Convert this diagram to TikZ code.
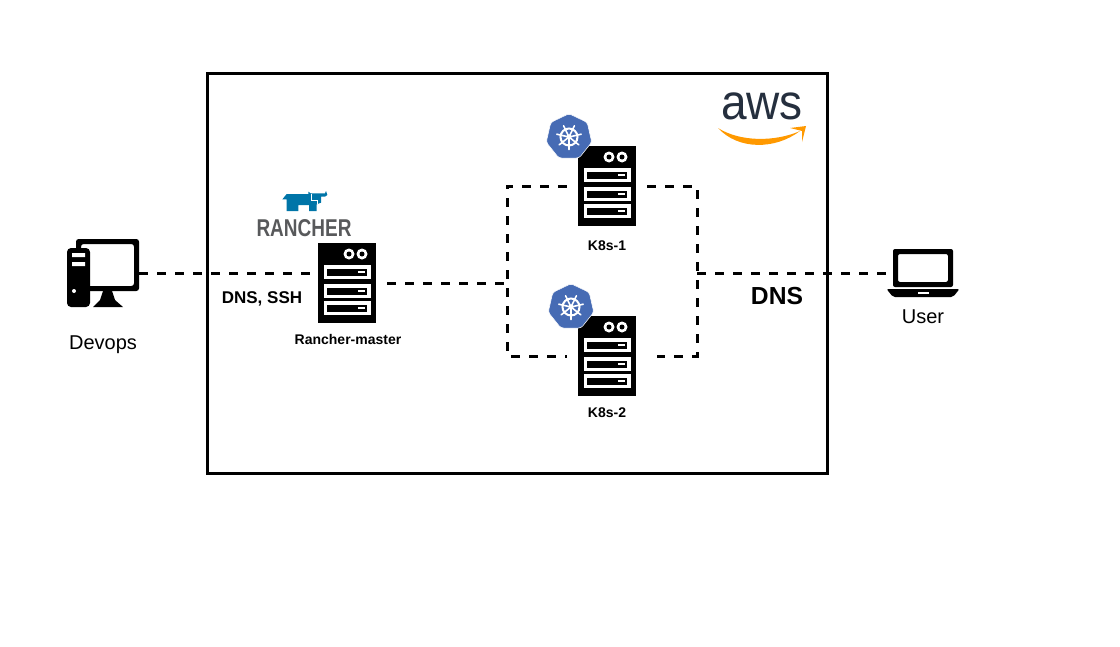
\documentclass[tikz,border=0pt]{standalone}
\usepackage{fontspec}
\setmainfont{Liberation Sans}
\usetikzlibrary{shapes.geometric}
\definecolor{k8sblue}{HTML}{466BB4}
\definecolor{awsdark}{HTML}{252F3E}
\definecolor{awsorange}{HTML}{FF9900}
\definecolor{rancherblue}{HTML}{0075A8}
\definecolor{ranchergrey}{HTML}{58595B}
\tikzset{
  dashline/.style={line width=2.25pt,dash pattern=on 6.75pt off 6.75pt},
  serverbox/.style={draw=none,fill=black,minimum width=43.5pt,minimum height=60pt,inner sep=0pt},
  k8sbadge/.style={regular polygon,regular polygon sides=7,draw=white,line width=0.4pt,fill=k8sblue,minimum size=35pt,inner sep=0pt,rounded corners=2pt},
  lbl/.style={font=\fontsize{10.5pt}{12pt}\selectfont\bfseries,inner sep=0pt},
  serverface/.pic={
    \foreach \ex in {2,15}{
      \fill[white] (\ex,-29) circle (5.5);
      \fill[black] (\ex,-29) circle (2.5);
    }
    \foreach \by in {-18,1,18}{
      \fill[white] (-23,\by) rectangle (24,\by+14);
      \fill[black] (-20,\by+3.5) rectangle (20,\by+10.5);
      \fill[white] (11,\by+6) rectangle (18,\by+8);
    }
  },
  k8swheel/.pic={
    \draw[white,line width=1.5pt] (0,0) circle (8.5);
    \fill[white] (0,0) circle (2.5);
    \foreach \a in {90,141.4,192.9,244.3,295.7,347.1,38.6}{
      \draw[white,line width=1.2pt,line cap=round] (0,0) -- (\a:12.5);
    }
  }
}
\begin{document}
\begin{tikzpicture}[x=0.75pt,y=-0.75pt]
\useasboundingbox (0,0) rectangle (1120,646);
\draw[line width=2.25pt] (207,73) rectangle (827,473);

\node[serverbox] (master) at (347,283) {};
\node[serverbox] (k1) at (607,186) {};
\node[serverbox] (k2) at (607,356) {};
\pic at (master) {serverface};
\pic at (k1) {serverface};
\pic at (k2) {serverface};
\node[k8sbadge] (badge1) at (569,137) {};
\node[k8sbadge] (badge2) at (571,307) {};
\pic at (badge1) {k8swheel};
\pic at (badge2) {k8swheel};

\coordinate (pc) at (139,273);
\coordinate (laptop) at (887,273);
\coordinate (busl) at (507,283);
\coordinate (busr) at (697,273);

\draw[dashline,shorten >=4.5pt] (pc) -- (pc -| master.west);
\draw[dashline,shorten <=8.25pt] (master.east) -- (busl);
\draw[dashline,shorten <=8.25pt,shorten >=8.25pt] (k1.west) -| (busl) |- (k2.west);
\draw[dashline,shorten <=8.25pt,shorten >=15.75pt] (k1.east) -| (busr) |- (k2.east);
\draw[dashline] (busr) -- (laptop);

\fill[even odd rule,rounded corners=2pt] (76,239) rectangle (139,291) (81,244) rectangle (134,286);
\fill[rounded corners=3pt] (67,248) rectangle (90,307);
\fill (103,291) -- (112,291) -- (115,300) -- (123,307) -- (93,307) -- (100,300) -- cycle;
\fill[white] (72,253) rectangle (85,257) (72,262) rectangle (85,266) (74,291) circle (2);

\fill[even odd rule,rounded corners=1.5pt] (893,249) rectangle (953,287) (898,254) rectangle (948,282);
\fill[rounded corners=1.5pt] (886.5,289) -- (959.5,289) -- (953,297) -- (893,297) -- cycle;
\fill[white] (918,292) rectangle (929,294);

\begin{scope}[shift={(245,180)},x=0.25pt,y=-0.25pt]
\fill[rancherblue] (112,58) -- (125,42) -- (190,42) -- (190,35) -- (197,40) -- (240,40) -- (243,33) -- (247,45) -- (240,50) -- (228,50) -- (228,68) -- (215,73) -- (215,93) -- (192,93) -- (192,75) -- (160,75) -- (160,93) -- (125,93) -- (125,58) -- cycle;
\draw[white,line width=0.25pt] (197,42) -- (197,60) -- (215,60) -- (215,73);
\end{scope}
\node[font=\fontsize{14.25pt}{14pt}\selectfont\bfseries,text=ranchergrey,inner sep=0pt,transform shape,yscale=1.28] (rancher) at (304,228) {RANCHER};

\node[anchor=base,font=\fontsize{34.5pt}{34pt}\selectfont,text=awsdark,inner sep=0pt,transform shape,yscale=1.08] (aws) at (762,119.5) {aws};
\fill[awsorange] (718,128) .. controls (738,150) and (775,150) .. (800,131) .. controls (775,142) and (740,142) .. (718,128) -- cycle;
\fill[awsorange] (790,128) -- (806,126) -- (802,142) -- (802,131) -- cycle;

\node[lbl] (masterlbl) at (348,339) {Rancher-master};
\node[lbl] (k1lbl) at (607,245.5) {K8s-1};
\node[lbl] (k2lbl) at (607,412.5) {K8s-2};
\node[font=\fontsize{12.75pt}{14pt}\selectfont\bfseries,inner sep=0pt] (sshlbl) at (262,299) {DNS, SSH};
\node[font=\fontsize{18.5pt}{20pt}\selectfont\bfseries,inner sep=0pt] (dnslbl) at (777,296) {DNS};
\node[font=\fontsize{15pt}{18pt}\selectfont,inner sep=0pt] (devops) at (103,344.5) {Devops};
\node[font=\fontsize{15pt}{18pt}\selectfont,inner sep=0pt] (user) at (923,317) {User};
\end{tikzpicture}
\end{document}
